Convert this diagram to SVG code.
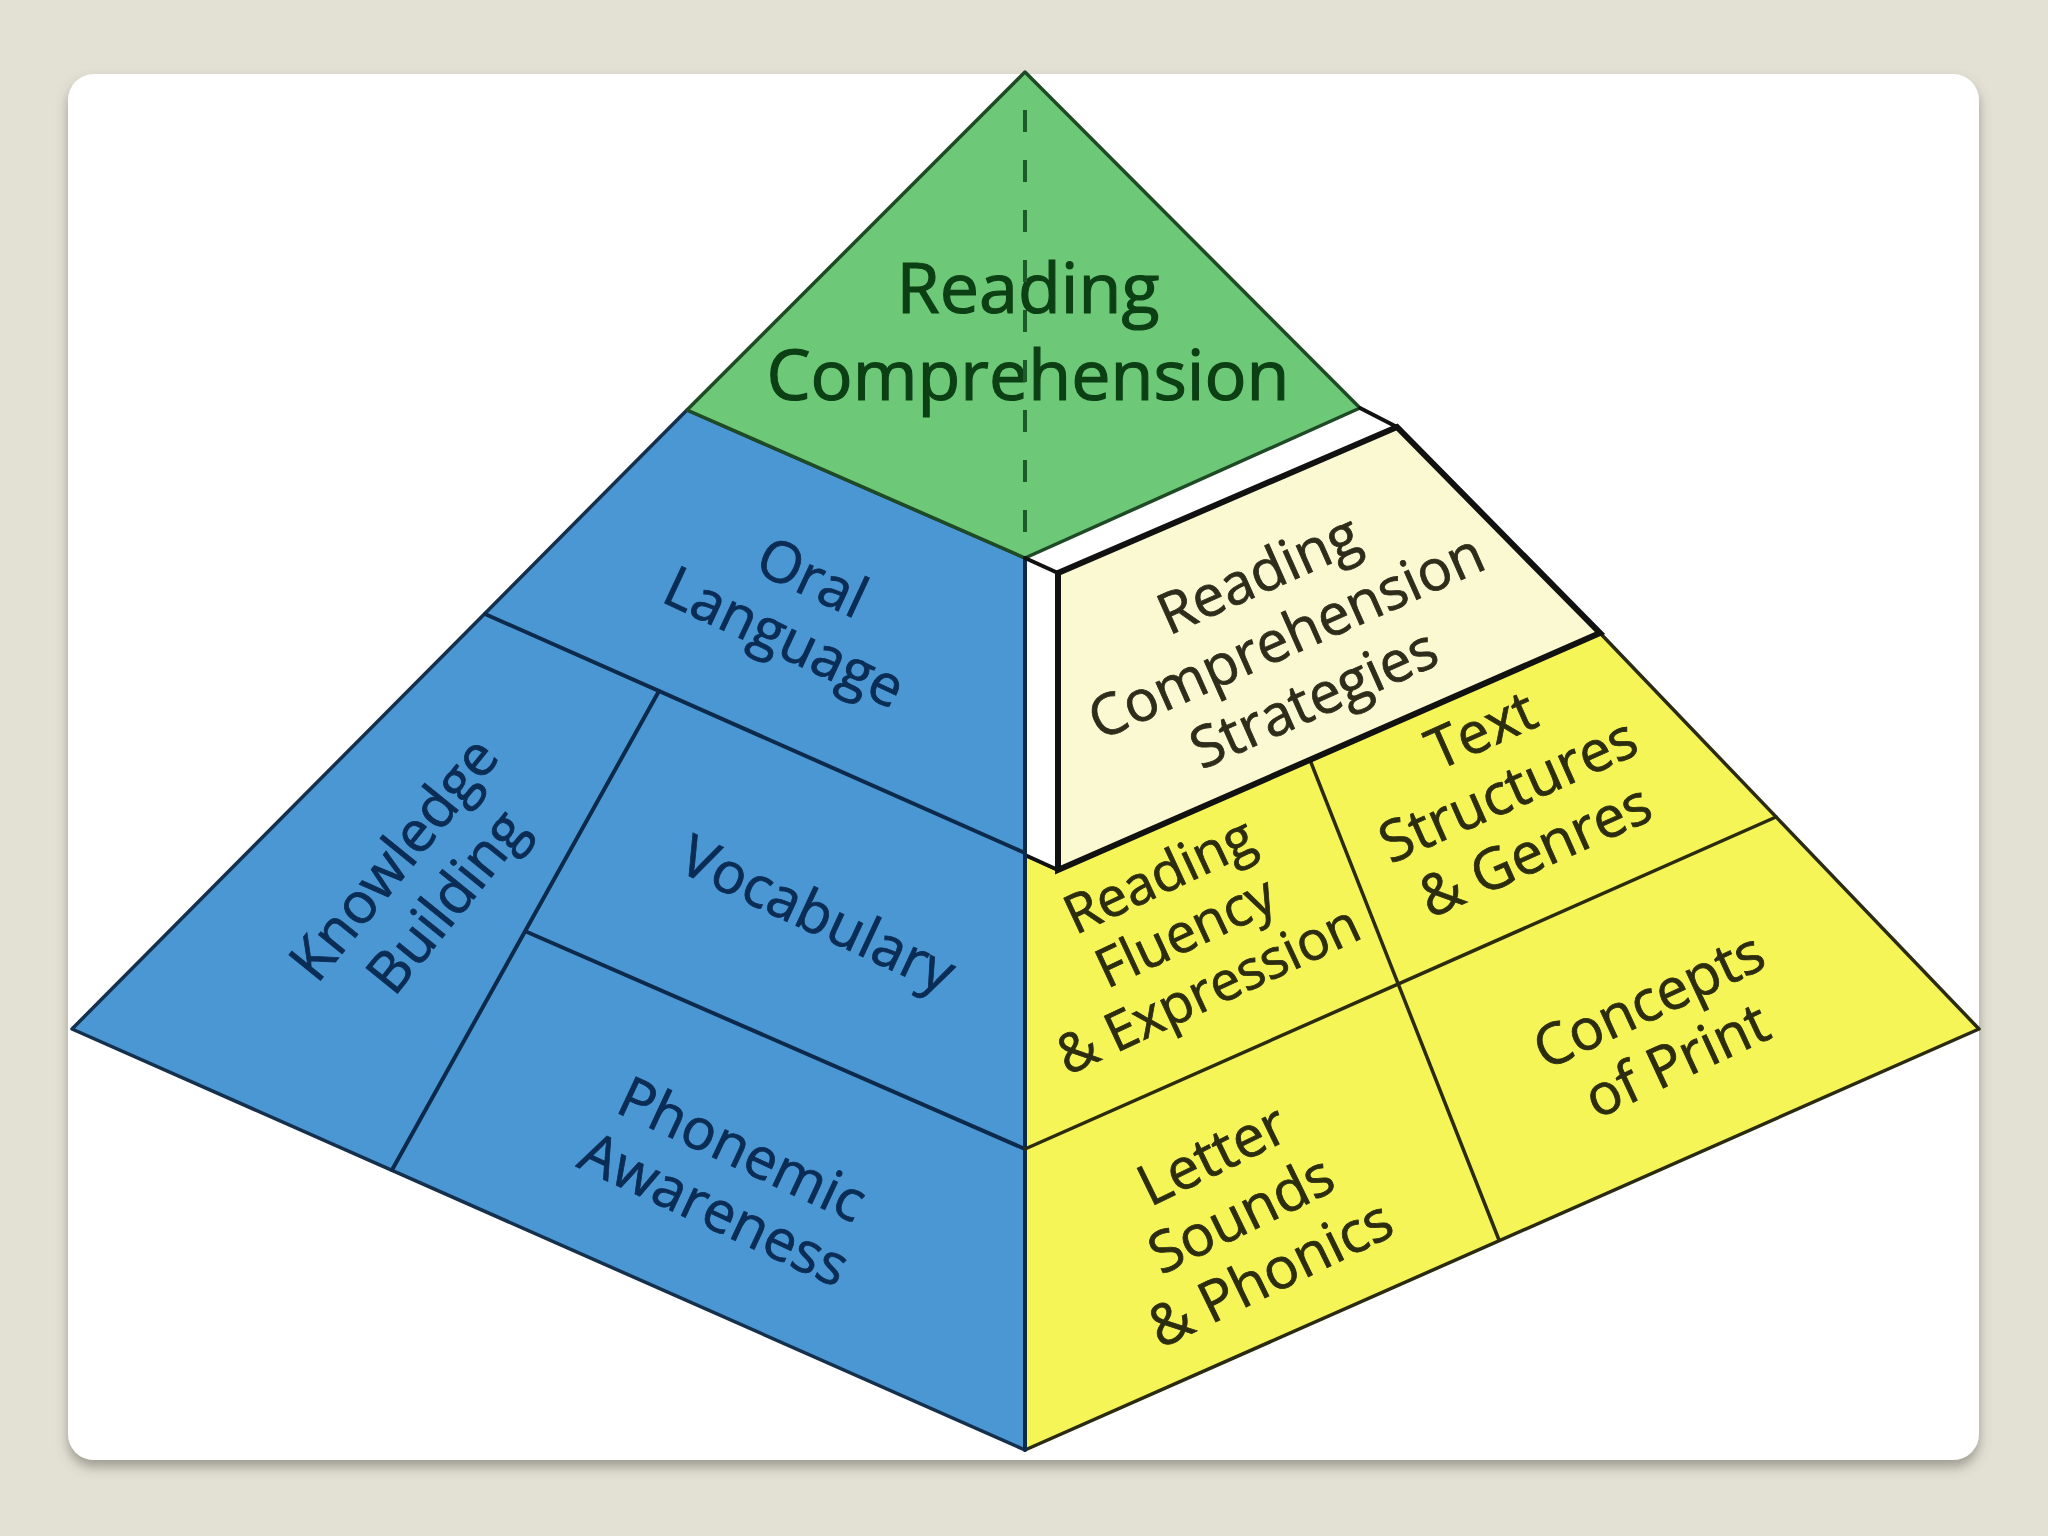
<svg xmlns="http://www.w3.org/2000/svg" width="2048" height="1536" viewBox="0 0 2048 1536">
  <defs>
    <filter id="shadow" x="-5%" y="-5%" width="110%" height="112%">
      <feDropShadow dx="0" dy="7" stdDeviation="6" flood-color="#5a5a50" flood-opacity="0.5"/>
    </filter>
    <style>
      .lbl { font-family: "Open Sans", "Noto Sans", "Liberation Sans", sans-serif; font-weight: 400; font-size: 57px; text-anchor: middle; stroke-width: 0.8px; }
      .top { font-family: "Open Sans", "Noto Sans", "Liberation Sans", sans-serif; font-weight: 400; font-size: 70px; text-anchor: middle; fill: #0c3f14; stroke: #0c3f14; stroke-width: 1.2px; }
      .blueT { fill: #0b2c55; stroke: #0b2c55; }
      .yelT { fill: #2c2c10; stroke: #2c2c10; }
      .stratT { fill: #2e2c1a; stroke: #2e2c1a; }
      .green { fill: #6dc878; stroke: #1e4a26; stroke-width: 3.5; stroke-linejoin: round; }
      .blue { fill: #4b97d3; stroke: #14304c; stroke-width: 3.5; stroke-linejoin: round; }
      .yellow { fill: #f5f557; stroke: #2b2b12; stroke-width: 3.5; stroke-linejoin: round; }
      .white { fill: #ffffff; stroke: none; }
      .block { fill: #fbf9d2; stroke: #111111; stroke-width: 6; stroke-linejoin: miter; }
      .bline { stroke: #0d2a4c; stroke-width: 4; fill: none; stroke-linecap: round; }
      .yline { stroke: #2b2b10; stroke-width: 3.5; fill: none; stroke-linecap: round; }
      .kline { stroke: #111111; stroke-width: 4; fill: none; stroke-linecap: round; }
      .dash { stroke: #1c5a28; stroke-width: 4; fill: none; stroke-dasharray: 22 28; }
    </style>
  </defs>

  <rect x="0" y="0" width="2048" height="1536" fill="#e3e0d4"/>
  <rect x="68" y="74" width="1911" height="1386" rx="26" ry="26" fill="#ffffff" filter="url(#shadow)"/>

  <g id="faces">
    <g id="blue-face">
      <polygon class="blue" points="687,410 1025,558 1025,1450 72,1029"/>
    </g>
    <g id="yellow-face">
      <polygon class="yellow" points="1025,855 1058,870 1600,633 1979,1029 1025,1450"/>
    </g>
    <g id="white-strips">
      <polygon class="white" points="1025,558 1360,408 1397,427 1058,573"/>
      <polygon class="white" points="1026,558 1058,573 1058,870 1026,855"/>
    </g>
  </g>

  <g id="node-reading-comprehension">
    <polygon class="green" points="1025,72 687,410 1025,558 1360,408"/>
    <text class="top" x="1028" y="313">Reading</text>
    <text class="top" x="1028" y="400">Comprehension</text>
  </g>

  <g id="connectors">
    <line class="dash" x1="1025" y1="110" x2="1025" y2="556"/>
    <line class="bline" x1="485" y1="614" x2="1025" y2="853"/>
    <line class="kline" x1="1025" y1="855" x2="1058" y2="870"/>
    <line class="bline" x1="659" y1="691" x2="392" y2="1170"/>
    <line class="bline" x1="527" y1="932" x2="1025" y2="1149"/>
    <line class="bline" x1="1025" y1="558" x2="1025" y2="1450"/>
    <line class="kline" x1="1025" y1="558" x2="1058" y2="573"/>
    <line class="kline" x1="1360" y1="408" x2="1397" y2="427"/>
    <line class="yline" x1="1025" y1="1149" x2="1776" y2="817"/>
    <line class="yline" x1="1310" y1="760" x2="1499" y2="1240"/>
  </g>

  <g id="node-strategies">
    <polygon class="block" points="1058,573 1397,427 1600,633 1058,870"/>
    <text class="lbl stratT" transform="translate(1286,636) rotate(-24)"><tspan x="0" y="-48">Reading</tspan><tspan x="0" y="20">Comprehension</tspan><tspan x="0" y="88">Strategies</tspan></text>
  </g>

  <g id="node-oral-language">
    <text class="lbl blueT" transform="translate(798,608) rotate(25)"><tspan x="0" y="-14">Oral</tspan><tspan x="0" y="52">Language</tspan></text>
  </g>
  <g id="node-knowledge-building">
    <text class="lbl blueT" transform="translate(420,880) rotate(-51)"><tspan x="0" y="-14">Knowledge</tspan><tspan x="0" y="54">Building</tspan></text>
  </g>
  <g id="node-vocabulary">
    <text class="lbl blueT" transform="translate(818,914) rotate(25)"><tspan x="0" y="20">Vocabulary</tspan></text>
  </g>
  <g id="node-phonemic-awareness">
    <text class="lbl blueT" transform="translate(728,1180) rotate(25)"><tspan x="0" y="-14">Phonemic</tspan><tspan x="0" y="52">Awareness</tspan></text>
  </g>
  <g id="node-reading-fluency">
    <text class="lbl yelT" style="font-size:54px" transform="translate(1182,934) rotate(-25)"><tspan x="4" y="-44">Reading</tspan><tspan x="4" y="18">Fluency</tspan><tspan x="0" y="80">&amp; Expression</tspan></text>
  </g>
  <g id="node-text-structures">
    <text class="lbl yelT" transform="translate(1508,790) rotate(-24)"><tspan x="0" y="-46">Text</tspan><tspan x="0" y="20">Structures</tspan><tspan x="0" y="86">&amp; Genres</tspan></text>
  </g>
  <g id="node-letter-sounds">
    <text class="lbl yelT" transform="translate(1241,1214) rotate(-26)"><tspan x="0" y="-46">Letter</tspan><tspan x="0" y="20">Sounds</tspan><tspan x="0" y="86">&amp; Phonics</tspan></text>
  </g>
  <g id="node-concepts-of-print">
    <text class="lbl yelT" transform="translate(1663,1031) rotate(-25)"><tspan x="0" y="-14">Concepts</tspan><tspan x="0" y="52">of Print</tspan></text>
  </g>
</svg>
